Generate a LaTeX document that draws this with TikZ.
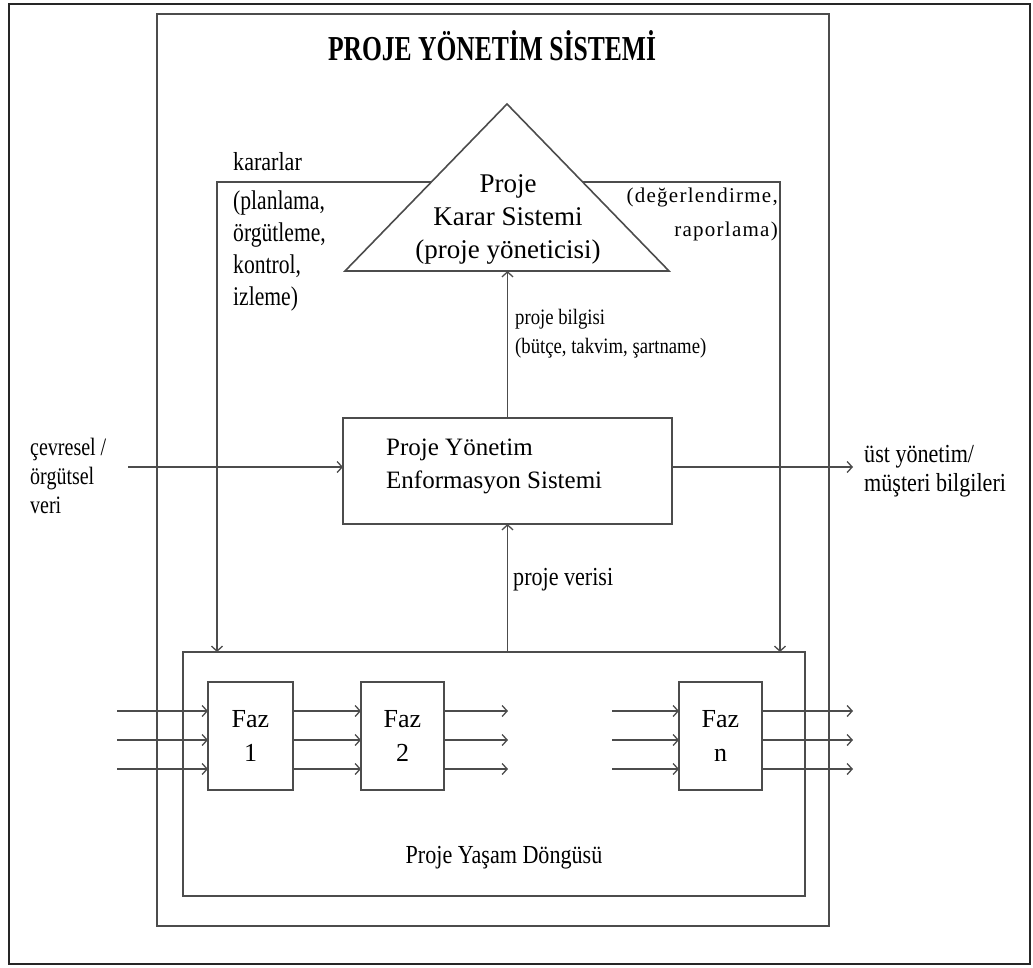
\documentclass[tikz,border=0pt]{standalone}
\usepackage{fontspec}
\setmainfont{Liberation Serif}
\newfontfamily\narrowserif{Liberation Serif}[FakeStretch=0.85]
\newfontfamily\narrowerserif{Liberation Serif}[FakeStretch=0.8]
\usetikzlibrary{arrows.meta,calc}
\begin{document}
\begin{tikzpicture}[x=1pt,y=-1pt,
  ln/.style={draw=black!70, line width=1.6pt},
  box/.style={ln, rectangle, inner sep=0pt, outer sep=0pt, anchor=north west},
  arr/.style={ln, -{Straight Barb[length=5pt,width=11pt,line width=1.3pt]}},
  txt/.style={inner sep=0pt, font=\fontsize{25}{31}\selectfont, align=left},
  faz/.style={box, minimum width=85pt, minimum height=108pt, align=center, font=\fontsize{26}{34}\selectfont},
]
\useasboundingbox (0,0) rectangle (1033,967);
\fill[white] (0,0) rectangle (1033,967);
% frames
\node[box, draw=black!85, line width=2.8pt, minimum width=1021pt, minimum height=960pt] (outer) at (9,4) {};
\node[box, minimum width=672pt, minimum height=912pt] (inner) at (157,14) {};
\node[inner sep=0pt, font=\fontsize{35}{35}\selectfont\bfseries] (title) at (492,46) {\scalebox{0.73}[1]{PROJE YÖNETİM SİSTEMİ}};
% triangle
\coordinate (tA) at (507,104);
\coordinate (tL) at (345,271);
\coordinate (tR) at (669,271);
\draw[ln, line join=miter] (tA) -- (tL) -- (tR) -- cycle;
\node[txt, align=center, font=\fontsize{27}{33}\selectfont] (kks) at (508,219) {Proje\\Karar Sistemi\\(proje yöneticisi)};
% boxes
\node[box, minimum width=329pt, minimum height=106pt] (pyes) at (343,418) {};
\node[txt, anchor=west, font=\fontsize{25}{33}\selectfont] (pyestxt) at (386,466) {Proje Yönetim\\Enformasyon Sistemi};
\node[box, minimum width=622pt, minimum height=244pt] (life) at (183,652) {};
\node[txt, font=\fontsize{26}{26}\narrowserif] (lifetxt) at (504,858) {Proje Yaşam Döngüsü};
\node[faz] (f1) at (208,682) {Faz\\1};
\node[faz, minimum width=83pt] (f2) at (361,682) {Faz\\2};
\node[faz, minimum width=83pt] (fn) at (679,682) {Faz\\n};
% decision lines
\coordinate (kL) at (217,182);
\coordinate (kR) at (780,182);
\draw[arr] ($(tA)!0.467!(tL)$) -- (kL) -- (kL |- life.north);
\draw[arr] ($(tA)!0.467!(tR)$) -- (kR) -- (kR |- life.north);
\node[txt, anchor=west, font=\fontsize{26}{26}\narrowserif] (kararlar) at (233,162) {kararlar};
\node[txt, anchor=west, font=\fontsize{27}{32}\narrowerserif] (kararlist) at (233,251) {(planlama,\\örgütleme,\\kontrol,\\izleme)};
\node[txt, anchor=east, align=right, font=\fontsize{21}{34}\selectfont\addfontfeature{LetterSpace=6}] (deger) at (778,214) {(değerlendirme,\\raporlama)};
% info flows
\draw[arr] (pyes.north) -- (pyes.north |- tL);
\node[txt, anchor=west, font=\fontsize{22}{29}\narrowserif] (bilgi) at (515,334) {proje bilgisi\\(bütçe, takvim, şartname)};
\draw[arr] (pyes.south |- life.north) -- (pyes.south);
\node[txt, anchor=west, font=\fontsize{26}{26}\narrowserif] (veri) at (513,580) {proje verisi};
\coordinate (envS) at (128,467);
\draw[arr] (envS) -- (pyes.west |- envS);
\node[txt, anchor=west, font=\fontsize{25}{29}\narrowerserif] (env) at (30,476) {çevresel /\\örgütsel\\veri};
\coordinate (outE) at (853,467);
\draw[arr] (pyes.east |- outE) -- (outE);
\node[txt, anchor=west, font=\fontsize{26}{29}\narrowserif] (ust) at (864,471) {üst yönetim/\\müşteri bilgileri};
% phase arrows
\foreach \i/\y in {1/711, 2/740, 3/769} {
  \coordinate (r\i) at (0,\y);
  \coordinate (in\i) at (117,\y);
  \coordinate (o2\i) at (508,\y);
  \coordinate (inn\i) at (612,\y);
  \coordinate (on\i) at (853,\y);
  \draw[arr] (in\i) -- (f1.west |- r\i);
  \draw[arr] (f1.east |- r\i) -- (f2.west |- r\i);
  \draw[arr] (f2.east |- r\i) -- (o2\i);
  \draw[arr] (inn\i) -- (fn.west |- r\i);
  \draw[arr] (fn.east |- r\i) -- (on\i);
}
\end{tikzpicture}
\end{document}
